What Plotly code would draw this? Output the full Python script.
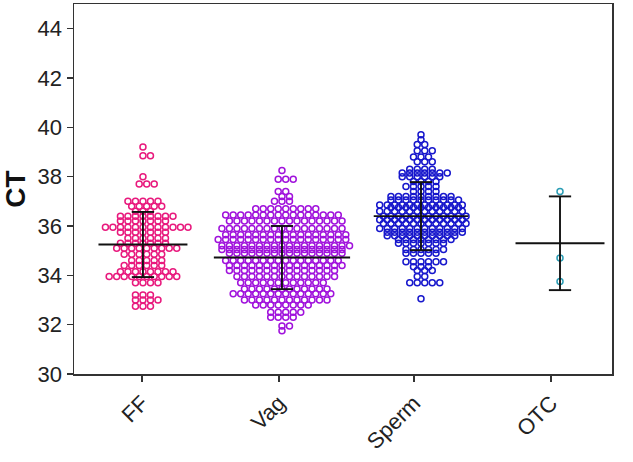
import plotly.graph_objects as go

categories = ["FF", "Vag", "Sperm", "OTC"]

ff_levels = [39.2, 38.85, 38.0, 37.7, 37.0, 36.8, 36.6, 36.4, 36.2, 35.95, 35.75, 35.5, 35.3, 35.1,
             34.85, 34.6, 34.4, 34.15, 33.95, 33.7, 33.2, 33.0, 32.75]
ff_counts = [1, 2, 1, 3, 5, 5, 3, 8, 7, 12, 7, 6, 7, 9, 6, 5, 6, 8, 10, 4, 3, 4, 3]

vag_levels = [38.25, 37.9, 37.4, 37.2, 37.0, 36.7, 36.45, 36.2, 35.9, 35.65, 35.45, 35.2, 35.05, 34.9,
              34.6, 34.4, 34.2, 33.95, 33.7, 33.45, 33.25, 33.0, 32.8, 32.5, 32.3, 31.95, 31.75]
vag_counts = [1, 3, 2, 2, 3, 9, 16, 16, 17, 17, 18, 18, 17, 16, 16, 16, 15, 14, 12, 12, 14, 12, 8, 5, 4, 2, 1]

sperm_levels = [39.7, 39.5, 39.3, 39.05, 38.8, 38.6, 38.3, 38.15, 38.0, 37.8, 37.6, 37.4, 37.2, 37.05,
                36.85, 36.75, 36.6, 36.4, 36.25, 36.1, 35.9, 35.75, 35.6, 35.45, 35.3, 35.05, 34.9,
                34.55, 34.35, 34.2, 33.95, 33.7, 33.05]
sperm_counts = [1, 1, 2, 3, 3, 3, 4, 7, 6, 4, 5, 4, 9, 10, 12, 10, 12, 12, 12, 12, 12, 11, 10, 8, 7, 6, 5,
                6, 3, 3, 2, 5, 1]

otc_levels = [37.4, 34.7, 33.75]
otc_counts = [1, 1, 1]

# Mean and SD
means = [35.25, 34.72, 36.4, 35.3]
sds = [1.32, 1.28, 1.38, 1.9]

colors = ["#e8197d", "#a012dc", "#1717cc", "#2a9db5"]

groups = [(ff_levels, ff_counts), (vag_levels, vag_counts),
          (sperm_levels, sperm_counts), (otc_levels, otc_counts)]

mean_half = [0.32, 0.49, 0.34, 0.32]
cap_half = 0.08
dx = 0.054

fig = go.Figure()

for gi, (levels, counts) in enumerate(groups):
    xs, ys = [], []
    for ri, (lv, n) in enumerate(zip(levels, counts)):
        shift = (dx / 2) if (ri % 2 == 1 and n > 1) else 0.0
        for j in range(n):
            xs.append(gi + (j - (n - 1) / 2) * dx + shift)
            ys.append(lv)
    fig.add_trace(go.Scatter(
        x=xs, y=ys, mode="markers",
        marker=dict(symbol="circle-open", size=6, color=colors[gi], line=dict(width=1.5, color=colors[gi])),
        showlegend=False, hoverinfo="y"))

for gi in range(len(categories)):
    m, s = means[gi], sds[gi]
    lx, ly = [], []
    lx += [gi - mean_half[gi], gi + mean_half[gi], None]
    ly += [m, m, None]
    lx += [gi, gi, None]
    ly += [m - s, m + s, None]
    lx += [gi - cap_half, gi + cap_half, None, gi - cap_half, gi + cap_half, None]
    ly += [m + s, m + s, None, m - s, m - s, None]
    fig.add_trace(go.Scatter(x=lx, y=ly, mode="lines", line=dict(color="#111111", width=1.9),
                             showlegend=False, hoverinfo="skip"))

font_fam = "Arial, Liberation Sans, sans-serif"

fig.update_layout(
    width=633, height=462,
    margin=dict(l=74, r=21, t=4, b=88),
    paper_bgcolor="white", plot_bgcolor="white",
    font=dict(family=font_fam, color="#222222"),
    xaxis=dict(
        range=[-0.496, 3.374],
        tickmode="array",
        tickvals=[-0.007, 0.978, 1.95, 2.935],
        ticktext=categories,
        tickangle=-45,
        automargin=False,
        tickfont=dict(size=22, family=font_fam, color="#222222"),
        showline=True, linecolor="#333333", linewidth=1.5, mirror=True,
        ticks="outside", ticklen=6, tickwidth=1.5, tickcolor="#333333",
        showgrid=False, zeroline=False,
    ),
    yaxis=dict(
        range=[30, 45],
        tickvals=[30, 32, 34, 36, 38, 40, 42, 44],
        automargin=False,
        tickfont=dict(size=22, family=font_fam, color="#222222"),
        showline=True, linecolor="#333333", linewidth=1.5, mirror=True,
        ticks="outside", ticklen=6, tickwidth=1.5, tickcolor="#333333",
        showgrid=False, zeroline=False,
        title=dict(text="<b>CT</b>", font=dict(size=28, family=font_fam, color="#111111"), standoff=12),
    ),
)

fig.write_html("out.html",
               config={"displayModeBar": False, "staticPlot": True},
               post_script="document.body.style.margin='0';document.body.style.padding='0';")
